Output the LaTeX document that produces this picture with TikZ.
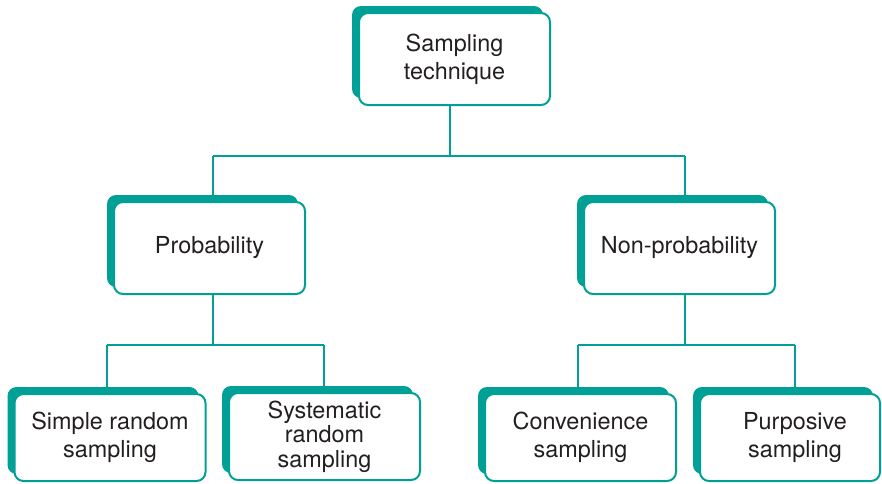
\documentclass[tikz,border=0pt]{standalone}
\usepackage{fontspec}
\setmainfont{TeX Gyre Heros}
\usetikzlibrary{shadows}
\definecolor{tealc}{RGB}{0,160,151}
\definecolor{inkc}{RGB}{35,31,32}
\begin{document}
\begin{tikzpicture}[x=0.5pt,y=-0.5pt,
  box/.style={draw=tealc, line width=1pt, fill=white, rounded corners=4.5pt,
    minimum width=95.5pt, minimum height=46pt, align=center, inner sep=2pt,
    text=inkc, font=\fontsize{11.7}{14}\selectfont,
    drop shadow={shadow xshift=-3.5pt, shadow yshift=3.5pt, fill=tealc, opacity=1}},
  lowbox/.style={box, minimum height=43.5pt},
  conn/.style={draw=tealc, line width=1.25pt}]
\useasboundingbox (0,0) rectangle (882,483);

% level nodes
\node[box] (top) at (454.5,59) {Sampling\\technique};
\node[box] (prob) at (209.5,248) {Probability};
\node[box] (nonprob) at (679.5,248) {Non-probability};
\node[lowbox] (srs) at (110,437.5) {Simple random\\sampling};
\node[lowbox, font=\fontsize{11.7}{12.2}\selectfont] (sys) at (324.5,436.5) {Systematic\\random\\sampling};
\node[lowbox] (conv) at (580.5,437.5) {Convenience\\sampling};
\node[lowbox, minimum width=90pt] (purp) at (790,437.5) {\hspace*{5pt}Purposive\\\hspace*{5pt}sampling};

% bus points of the tree
\coordinate (busA) at (450,156);
\coordinate (busAl) at (213,156);
\coordinate (busAr) at (685,156);
\coordinate (busBl) at (107,345);
\coordinate (busBr) at (324,345);
\coordinate (busBm) at (213,345);
\coordinate (busCl) at (578,345);
\coordinate (busCr) at (795,345);
\coordinate (busCm) at (685,345);

% connectors
\draw[conn] (top.south -| busA) -- (busA);
\draw[conn] (busAl) -- (busAr);
\draw[conn] (busAl) -- (busAl |- prob.north);
\draw[conn] (busAr) -- (busAr |- nonprob.north);
\draw[conn] (busBm |- prob.south) -- (busBm);
\draw[conn] (busBl) -- (busBr);
\draw[conn] (busBl) -- (busBl |- srs.north);
\draw[conn] (busBr) -- (busBr |- sys.north);
\draw[conn] (busCm |- nonprob.south) -- (busCm);
\draw[conn] (busCl) -- (busCr);
\draw[conn] (busCl) -- (busCl |- conv.north);
\draw[conn] (busCr) -- (busCr |- purp.north);
\end{tikzpicture}
\end{document}
